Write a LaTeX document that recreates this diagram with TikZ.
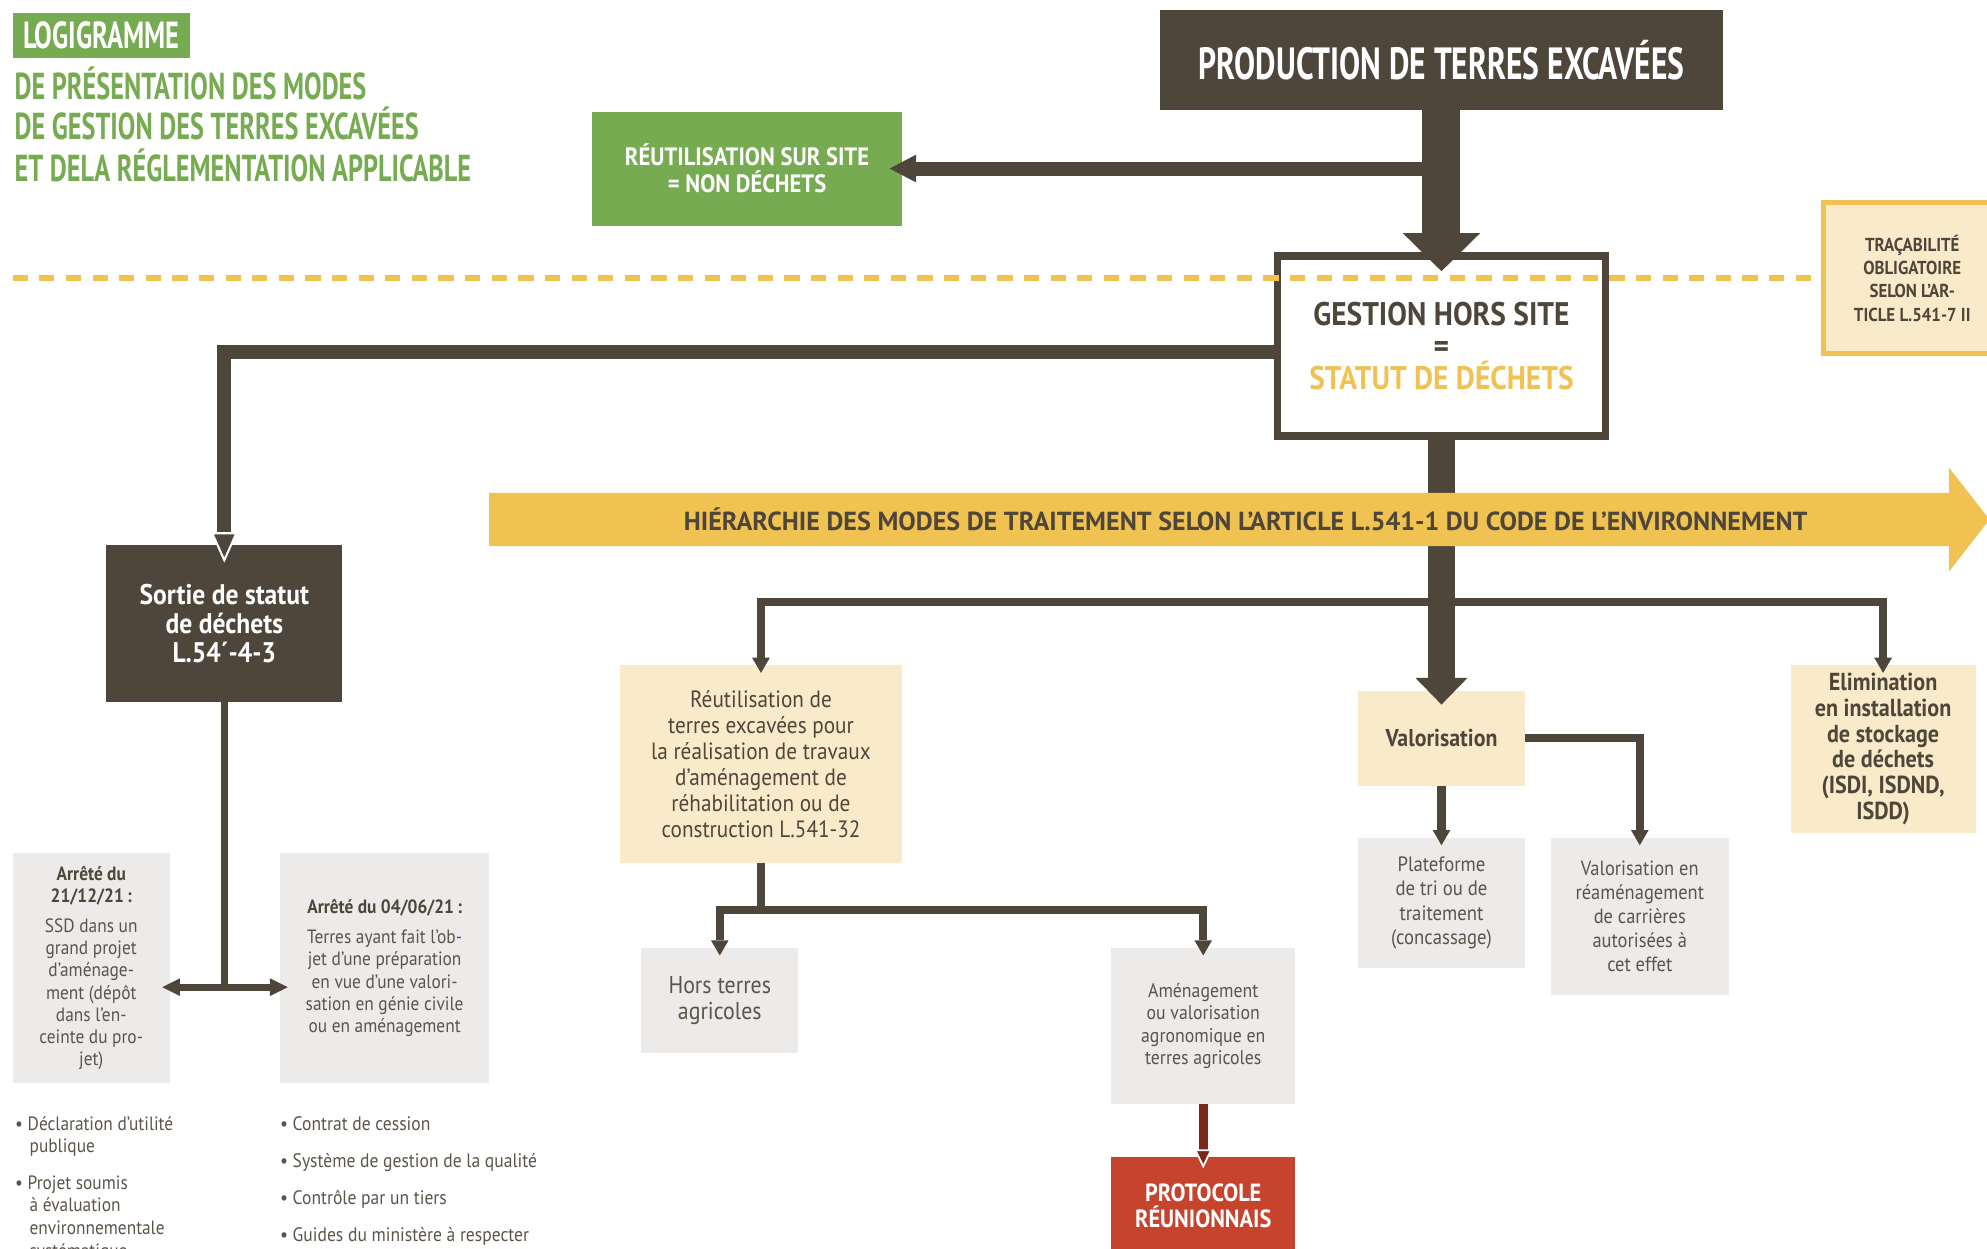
\documentclass[tikz,border=0pt]{standalone}
\usepackage{fontspec}
\setmainfont[FakeStretch=0.9]{PT Sans}
\newfontfamily\grunge[FakeStretch=0.7]{PT Sans}
\newfontfamily\widefont{PT Sans}
\usetikzlibrary{arrows.meta,calc}

\definecolor{dbrown}{HTML}{4E463A}
\definecolor{lgreen}{HTML}{77AB51}
\definecolor{sunny}{HTML}{F0C252}
\definecolor{cream}{HTML}{F9EBC9}
\definecolor{pale}{HTML}{ECEBE9}
\definecolor{brick}{HTML}{C6432D}
\definecolor{rust}{HTML}{7A2819}
\definecolor{greytext}{HTML}{5B544B}

\begin{document}
\begin{tikzpicture}[x=0.5pt,y=-0.5pt]
\newcommand{\fsz}[2]{\fontsize{#1}{#2}\selectfont}
\tikzset{every node/.style={inner sep=0pt, outer sep=0pt, align=center}}
\tikzset{
  darkbox/.style={fill=dbrown, text=white},
  creambox/.style={fill=cream, text=dbrown},
  greybox/.style={fill=pale, text=greytext},
  heavyarrow/.style={draw=dbrown, line width=15pt, -{Triangle[width=30.5pt,length=15pt,line width=0pt]}},
  sidearrow/.style={draw=dbrown, line width=5.5pt, -{Triangle[width=11pt,length=10.5pt,line width=0pt]}},
  hookarrow/.style={draw=dbrown, line width=5.5pt, -{Triangle[width=10.5pt,length=12pt,line width=0.8pt,color=white,fill=dbrown]}},
  stemarrow/.style={draw=dbrown, line width=10.5pt, -{Triangle[width=20.5pt,length=10.5pt,line width=0pt]}},
  branchline/.style={draw=dbrown, line width=3.25pt},
  brancharrow/.style={branchline, -{Triangle[width=7pt,length=6pt,line width=0pt]}},
  thinlink/.style={draw=dbrown, line width=2.75pt},
  twoway/.style={thinlink, {Triangle[width=7pt,length=7pt,line width=0pt]}-{Triangle[width=7pt,length=7pt,line width=0pt]}},
  redarrow/.style={draw=rust, line width=3.5pt, -{Triangle[width=7pt,length=7.5pt,line width=0.7pt,color=white,fill=rust]}},
  traceline/.style={draw=sunny, line width=2.2pt, dash pattern=on 6pt off 4.5pt}
}
\useasboundingbox (0,0) rectangle (1568,985);
\clip (0,0) rectangle (1568,985);

% titre
\node[fill=lgreen, minimum width=70pt, minimum height=18pt, text=white, font=\grunge\bfseries\fsz{14.9}{14.9}] (logo) at (80,28) {LOGIGRAMME};
\node[anchor=base west, text=lgreen, font=\grunge\bfseries\fsz{14.8}{14.8}] (title1) at (11.5,78.5) {DE PRÉSENTATION DES MODES};
\node[anchor=base west, text=lgreen, font=\grunge\bfseries\fsz{14.8}{14.8}] (title2) at (11.5,110) {DE GESTION DES TERRES EXCAVÉES};
\node[anchor=base west, text=lgreen, font=\grunge\bfseries\fsz{14.8}{14.8}] (title3) at (11.5,143) {ET DELA RÉGLEMENTATION APPLICABLE};

% haut
\node[darkbox, minimum width=222.5pt, minimum height=39.5pt, font=\grunge\bfseries\fsz{17.8}{17.8}] (prod) at (1137.5,47.5) {PRODUCTION DE TERRES EXCAVÉES};
\node[fill=lgreen, text=white, minimum width=122.5pt, minimum height=45pt, font=\bfseries\fsz{9.9}{10.5}] (reuse) at (589.5,133) {RÉUTILISATION SUR SITE\\= NON DÉCHETS};
\node[draw=dbrown, line width=3pt, fill=white, minimum width=129.5pt, minimum height=71pt, text=dbrown, font=\bfseries\fsz{12.9}{12.5}] (gest) at (1137.5,273) {GESTION HORS SITE\\=\\\textcolor{sunny}{STATUT DE DÉCHETS}};
\node[draw=sunny, line width=2pt, fill=cream, minimum width=70pt, minimum height=59.5pt, text=dbrown, font=\bfseries\fsz{7.4}{9.2}] (trac) at (1509,219.5) {TRAÇABILITÉ\\OBLIGATOIRE\\SELON L’AR-\\TICLE L.541-7 II};

% sortie de statut
\node[darkbox, minimum width=93pt, minimum height=62pt, font=\bfseries\fsz{11.2}{11.5}] (sortie) at (177,492) {Sortie de statut\\de déchets\\L.54´-4-3};
\node[greybox, minimum width=62pt, minimum height=91pt, font=\fsz{7.6}{8.75}] (arr1) at (72,764) {\textbf{\color{dbrown}Arrêté du}\\\textbf{\color{dbrown}21/12/21\,:}\\[3pt]SSD dans un\\grand projet\\d’aménage-\\ment (dépôt\\dans l’en-\\ceinte du pro-\\jet)};
\node[greybox, minimum width=82.5pt, minimum height=91pt, font=\fsz{7.6}{8.75}] (arr2) at (303.5,764) {\textbf{\color{dbrown}Arrêté du 04/06/21\,:}\\[3pt]Terres ayant fait l’ob-\\jet d’une préparation\\en vue d’une valori-\\sation en génie civile\\ou en aménagement};
\node[anchor=north west, align=left, text=greytext, font=\fsz{7.6}{8.9}] (listleft) at (12,881) {• Déclaration d’utilité\\\hspace*{0.75em}publique\\[5.5pt]• Projet soumis\\\hspace*{0.75em}à évaluation\\\hspace*{0.75em}environnementale\\\hspace*{0.75em}systématique};
\node[anchor=north west, align=left, text=greytext, font=\fsz{7.7}{14.6}] (listright) at (221,881) {• Contrat de cession\\• Système de gestion de la qualité\\• Contrôle par un tiers\\• Guides du ministère à respecter};

% modes de traitement
\node[creambox, minimum width=111.5pt, minimum height=78pt, font=\fsz{9.3}{10.2}] (reutil) at (600.5,603) {Réutilisation de\\terres excavées pour\\la réalisation de travaux\\d’aménagement de\\réhabilitation ou de\\construction L.541-32};
\node[creambox, minimum width=66pt, minimum height=37.5pt, font=\bfseries\fsz{9.6}{10.2}] (valo) at (1137.5,582.5) {Valorisation};
\node[creambox, minimum width=73pt, minimum height=66pt, font=\bfseries\fsz{9.7}{10.2}] (elim) at (1486,591) {Elimination\\en installation\\de stockage\\de déchets\\(ISDI, ISDND,\\ISDD)};
\node[greybox, minimum width=66pt, minimum height=51.5pt, font=\fsz{8.2}{9.5}] (plat) at (1137.5,712.5) {Plateforme\\de tri ou de\\traitement\\(concassage)};
\node[greybox, minimum width=70pt, minimum height=62pt, font=\fsz{8.1}{9.5}] (carr) at (1294,723) {Valorisation en\\réaménagement\\de carrières\\autorisées à\\cet effet};
\node[greybox, minimum width=62pt, minimum height=41.5pt, font=\fsz{9.6}{10}] (hors) at (568,789.5) {Hors terres\\agricoles};
\node[greybox, minimum width=72.5pt, minimum height=61.5pt, font=\fsz{7.8}{8.8}] (amen) at (949.5,809.5) {Aménagement\\ou valorisation\\agronomique en\\terres agricoles};
\node[fill=brick, text=white, minimum width=72.5pt, minimum height=38.5pt, font=\bfseries\fsz{9.8}{10}] (proto) at (949.5,951.5) {PROTOCOLE\\RÉUNIONNAIS};

\coordinate (dashstart) at (10,219.5);
\coordinate (hsplit) at (1137.5,475);
\coordinate (rsplit) at (600.5,718);
\coordinate (ssplit) at (177,779);

% liaisons
\draw[traceline] (dashstart) -- (trac.west);
\draw[sidearrow] (prod.south |- reuse.east) -- ($(reuse.east)+(-10,0)$);
\draw[heavyarrow] (prod.south) -- ($(gest.north)+(0,12)$);
\draw[hookarrow] ($(gest.west)+(0,4.5)$) -| ($(sortie.north)+(0,14)$);
\draw[thinlink] (sortie.south) -- (ssplit);
\draw[twoway] ($(arr1.east |- ssplit)+(-6,0)$) -- ($(arr2.west |- ssplit)+(6,0)$);
\draw[stemarrow] (gest.south) -- ($(valo.north)+(0,11)$);
\draw[brancharrow] (hsplit) -| ($(reutil.north)+(0,6)$);
\draw[brancharrow] (hsplit) -| ($(elim.north)+(0,6)$);
\draw[brancharrow] (valo.south) -- ($(plat.north)+(0,6)$);
\draw[brancharrow] (valo.east) -| ($(carr.north)+(0,6)$);
\draw[branchline] (reutil.south) -- (rsplit);
\draw[brancharrow] (rsplit) -| ($(hors.north)+(0,6)$);
\draw[brancharrow] (rsplit) -| ($(amen.north)+(0,6)$);
\draw[redarrow] (amen.south) -- ($(proto.north)+(0,9)$);

% bandeau hierarchie
\fill[sunny] (386,389) -- (1538,389) -- (1538,369) -- (1570,410) -- (1538,451) -- (1538,431) -- (386,431) -- cycle;
\node[text=dbrown, font=\widefont\bfseries\fsz{10.3}{10.3}] (hier) at (983,410) {HIÉRARCHIE DES MODES DE TRAITEMENT SELON L’ARTICLE L.541-1 DU CODE DE L’ENVIRONNEMENT};
\end{tikzpicture}
\end{document}
